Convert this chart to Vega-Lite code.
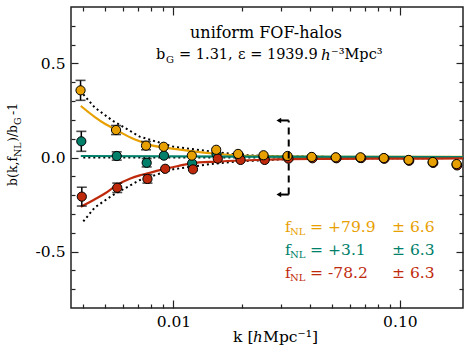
{
  "$schema": "https://vega.github.io/schema/vega-lite/v6.json",
  "width": 392,
  "height": 301,
  "autosize": {"type": "none"},
  "padding": {"left": 71, "top": 7, "right": 9, "bottom": 46},
  "background": "white",
  "config": {"view": {"stroke": "#222", "strokeWidth": 1.5}, "text": {"font": "DejaVu Serif"}},
  "datasets": {
    "pts": [
      {"k": 0.00392, "v": 0.086, "s": "zero"}, {"k": 0.00562, "v": 0.008, "s": "zero"}, {"k": 0.00762, "v": -0.028, "s": "zero"}, {"k": 0.00908, "v": 0.010, "s": "zero"}, {"k": 0.0121, "v": -0.031, "s": "zero"}, {"k": 0.0155, "v": 0.019, "s": "zero"}, {"k": 0.0195, "v": 0.010, "s": "zero"}, {"k": 0.0250, "v": 0.006, "s": "zero"}, {"k": 0.0319, "v": 0.003, "s": "zero"}, {"k": 0.0408, "v": 0.001, "s": "zero"}, {"k": 0.0521, "v": -0.001, "s": "zero"}, {"k": 0.0670, "v": -0.002, "s": "zero"}, {"k": 0.0849, "v": -0.005, "s": "zero"}, {"k": 0.1093, "v": -0.015, "s": "zero"}, {"k": 0.1396, "v": -0.027, "s": "zero"}, {"k": 0.1780, "v": -0.038, "s": "zero"},
      {"k": 0.00394, "v": -0.208, "s": "neg"}, {"k": 0.00565, "v": -0.161, "s": "neg"}, {"k": 0.00768, "v": -0.114, "s": "neg"}, {"k": 0.0092, "v": -0.060, "s": "neg"}, {"k": 0.0122, "v": -0.063, "s": "neg"}, {"k": 0.0157, "v": -0.006, "s": "neg"}, {"k": 0.0198, "v": -0.013, "s": "neg"}, {"k": 0.0253, "v": -0.013, "s": "neg"}, {"k": 0.0322, "v": -0.006, "s": "neg"}, {"k": 0.0411, "v": -0.004, "s": "neg"}, {"k": 0.0525, "v": -0.004, "s": "neg"}, {"k": 0.0675, "v": -0.003, "s": "neg"}, {"k": 0.0855, "v": -0.006, "s": "neg"}, {"k": 0.1100, "v": -0.017, "s": "neg"}, {"k": 0.1405, "v": -0.028, "s": "neg"}, {"k": 0.1790, "v": -0.042, "s": "neg"},
      {"k": 0.00389, "v": 0.357, "s": "pos"}, {"k": 0.00558, "v": 0.146, "s": "pos"}, {"k": 0.00757, "v": 0.063, "s": "pos"}, {"k": 0.00906, "v": 0.057, "s": "pos"}, {"k": 0.01206, "v": 0.010, "s": "pos"}, {"k": 0.01545, "v": 0.041, "s": "pos"}, {"k": 0.0193, "v": 0.019, "s": "pos"}, {"k": 0.0250, "v": 0.012, "s": "pos"}, {"k": 0.0319, "v": 0.008, "s": "pos"}, {"k": 0.0408, "v": 0.003, "s": "pos"}, {"k": 0.0521, "v": 0.001, "s": "pos"}, {"k": 0.0670, "v": 0.001, "s": "pos"}, {"k": 0.0849, "v": -0.003, "s": "pos"}, {"k": 0.1093, "v": -0.013, "s": "pos"}, {"k": 0.1396, "v": -0.024, "s": "pos"}, {"k": 0.1780, "v": -0.035, "s": "pos"}
    ],
    "errs": [
      {"k": 0.00392, "lo": 0.033, "hi": 0.139}, {"k": 0.00562, "lo": -0.014, "hi": 0.030}, {"k": 0.00762, "lo": -0.050, "hi": -0.006},
      {"k": 0.00394, "lo": -0.258, "hi": -0.158}, {"k": 0.00565, "lo": -0.186, "hi": -0.136}, {"k": 0.00768, "lo": -0.136, "hi": -0.092},
      {"k": 0.00389, "lo": 0.304, "hi": 0.410}, {"k": 0.00558, "lo": 0.122, "hi": 0.170}, {"k": 0.00757, "lo": 0.041, "hi": 0.085}
    ],
    "model": [
      {"k": 0.0039, "v": 0.274, "s": "pos"}, {"k": 0.0045, "v": 0.215, "s": "pos"}, {"k": 0.005, "v": 0.178, "s": "pos"}, {"k": 0.0056, "v": 0.146, "s": "pos"}, {"k": 0.0065, "v": 0.105, "s": "pos"}, {"k": 0.0071, "v": 0.086, "s": "pos"}, {"k": 0.0077, "v": 0.070, "s": "pos"}, {"k": 0.009, "v": 0.054, "s": "pos"}, {"k": 0.0105, "v": 0.043, "s": "pos"}, {"k": 0.012, "v": 0.034, "s": "pos"}, {"k": 0.0155, "v": 0.020, "s": "pos"}, {"k": 0.02, "v": 0.010, "s": "pos"}, {"k": 0.025, "v": 0.007, "s": "pos"}, {"k": 0.032, "v": 0.005, "s": "pos"}, {"k": 0.05, "v": 0.004, "s": "pos"}, {"k": 0.1, "v": 0.003, "s": "pos"}, {"k": 0.19, "v": 0.003, "s": "pos"},
      {"k": 0.0039, "v": 0.008, "s": "zero"}, {"k": 0.02, "v": 0.005, "s": "zero"}, {"k": 0.19, "v": 0.002, "s": "zero"},
      {"k": 0.0039, "v": -0.262, "s": "neg"}, {"k": 0.0045, "v": -0.222, "s": "neg"}, {"k": 0.005, "v": -0.19, "s": "neg"}, {"k": 0.0056, "v": -0.148, "s": "neg"}, {"k": 0.0065, "v": -0.11, "s": "neg"}, {"k": 0.0071, "v": -0.095, "s": "neg"}, {"k": 0.0077, "v": -0.084, "s": "neg"}, {"k": 0.009, "v": -0.063, "s": "neg"}, {"k": 0.0105, "v": -0.045, "s": "neg"}, {"k": 0.012, "v": -0.031, "s": "neg"}, {"k": 0.0155, "v": -0.022, "s": "neg"}, {"k": 0.02, "v": -0.016, "s": "neg"}, {"k": 0.025, "v": -0.012, "s": "neg"}, {"k": 0.032, "v": -0.009, "s": "neg"}, {"k": 0.05, "v": -0.007, "s": "neg"}, {"k": 0.1, "v": -0.006, "s": "neg"}, {"k": 0.19, "v": -0.005, "s": "neg"}
    ],
    "dots": [
      {"k": 0.0040, "v": 0.336, "s": "u"}, {"k": 0.0045, "v": 0.265, "s": "u"}, {"k": 0.0054, "v": 0.195, "s": "u"}, {"k": 0.0071, "v": 0.111, "s": "u"}, {"k": 0.010, "v": 0.057, "s": "u"}, {"k": 0.015, "v": 0.031, "s": "u"}, {"k": 0.0197, "v": 0.013, "s": "u"}, {"k": 0.03, "v": 0.006, "s": "u"}, {"k": 0.05, "v": 0.003, "s": "u"}, {"k": 0.19, "v": 0.002, "s": "u"},
      {"k": 0.0040, "v": 0.0, "s": "m"}, {"k": 0.19, "v": 0.0, "s": "m"},
      {"k": 0.0040, "v": -0.34, "s": "l"}, {"k": 0.0045, "v": -0.265, "s": "l"}, {"k": 0.0054, "v": -0.2, "s": "l"}, {"k": 0.0071, "v": -0.12, "s": "l"}, {"k": 0.010, "v": -0.062, "s": "l"}, {"k": 0.015, "v": -0.033, "s": "l"}, {"k": 0.0197, "v": -0.02, "s": "l"}, {"k": 0.03, "v": -0.01, "s": "l"}, {"k": 0.05, "v": -0.005, "s": "l"}, {"k": 0.19, "v": -0.003, "s": "l"}
    ],
    "arrowv": [{"k": 0.0323, "lo": -0.197, "hi": 0.197}],
    "arrowh": [{"k": 0.0323, "k2": 0.0297, "v": 0.197}, {"k": 0.0323, "k2": 0.0297, "v": -0.197}],
    "arrowhead": [{"k": 0.0292, "v": 0.197}, {"k": 0.0292, "v": -0.197}],
    "ttitle": [
      {"k": 0.01184, "v": 0.662, "text": "uniform FOF-halos"}
    ],
    "tline": [
      {"k": 0.008378, "v": 0.545, "text": "b"},
      {"k": 0.01059, "v": 0.545, "text": "= 1.31,"},
      {"k": 0.01929, "v": 0.545, "text": "ε = 1939.9"},
      {"k": 0.04967, "v": 0.545, "text": "⁻³Mpc³"}
    ],
    "tnorm": [
      {"k": 0.03112, "v": -0.369, "text": "f", "g": "pos"},
      {"k": 0.04013, "v": -0.369, "text": "=", "g": "pos"},
      {"k": 0.04818, "v": -0.369, "text": "+79.9", "g": "pos"},
      {"k": 0.09237, "v": -0.369, "text": "± 6.6", "g": "pos"},
      {"k": 0.03112, "v": -0.492, "text": "f", "g": "zero"},
      {"k": 0.04013, "v": -0.492, "text": "=", "g": "zero"},
      {"k": 0.04818, "v": -0.492, "text": "+3.1", "g": "zero"},
      {"k": 0.09237, "v": -0.492, "text": "± 6.3", "g": "zero"},
      {"k": 0.03112, "v": -0.614, "text": "f", "g": "neg"},
      {"k": 0.04013, "v": -0.614, "text": "=", "g": "neg"},
      {"k": 0.04818, "v": -0.614, "text": "-78.2", "g": "neg"},
      {"k": 0.09237, "v": -0.614, "text": "± 6.3", "g": "neg"},
      {"k": 0.01834, "v": -0.954, "text": "k [", "g": "k"},
      {"k": 0.02487, "v": -0.954, "text": "Mpc⁻¹]", "g": "k"}
    ],
    "tsub": [
      {"k": 0.009275, "v": 0.545, "text": "G", "g": "k"},
      {"k": 0.03273, "v": -0.369, "text": "NL", "g": "pos"},
      {"k": 0.03273, "v": -0.492, "text": "NL", "g": "zero"},
      {"k": 0.03273, "v": -0.614, "text": "NL", "g": "neg"}
    ],
    "tital": [
      {"k": 0.04486, "v": 0.545, "text": "h"},
      {"k": 0.02247, "v": -0.954, "text": "h"}
    ],
    "ytnorm": [
      {"k": 0.001957, "v": -0.1515, "text": "b(k,f"},
      {"k": 0.001957, "v": 0.0824, "text": ")/b"},
      {"k": 0.001957, "v": 0.2259, "text": "-1"}
    ],
    "ytsub": [
      {"k": 0.001957, "v": 0.0027, "text": "NL"},
      {"k": 0.001957, "v": 0.1728, "text": "G"}
    ]
  },
  "layer": [
    {
      "data": {"name": "dots"},
      "mark": {"type": "line", "color": "#000", "strokeWidth": 2, "strokeDash": [2, 3], "clip": true},
      "encoding": {
        "x": {"field": "k", "type": "quantitative", "scale": {"type": "log", "domain": [0.00353, 0.19], "nice": false},
          "axis": {"orient": "bottom", "values": [0.004, 0.005, 0.006, 0.007, 0.008, 0.009, 0.01, 0.02, 0.03, 0.04, 0.05, 0.06, 0.07, 0.08, 0.09, 0.1],
            "labelExpr": "datum.value == 0.01 ? '0.01' : (datum.value == 0.1 ? '0.10' : '')",
            "tickSize": {"condition": {"test": "datum.value == 0.01 || datum.value == 0.1", "value": -8}, "value": -4},
            "labelPadding": 14, "domain": false, "grid": false, "title": null, "labelFont": "DejaVu Serif", "labelFontSize": 15.5, "labelColor": "#000",
            "tickColor": "#222", "tickWidth": 1.2, "labelOverlap": false, "labelFlush": false}},
        "y": {"field": "v", "type": "quantitative", "scale": {"domain": [-0.8, 0.8], "nice": false, "zero": false},
          "axis": {"orient": "left", "values": [-0.7, -0.6, -0.5, -0.4, -0.3, -0.2, -0.1, 0, 0.1, 0.2, 0.3, 0.4, 0.5, 0.6, 0.7],
            "labelExpr": "datum.value == 0 ? '0.0' : (datum.value == 0.5 ? '0.5' : (datum.value == -0.5 ? '-0.5' : ''))",
            "tickSize": {"condition": {"test": "datum.value == 0 || abs(datum.value) == 0.5", "value": -7}, "value": -4},
            "labelPadding": 13, "domain": false, "grid": false, "title": null, "labelFont": "DejaVu Serif", "labelFontSize": 15.5, "labelColor": "#000",
            "tickColor": "#222", "tickWidth": 1.2, "labelOverlap": false, "labelFlush": false}},
        "detail": {"field": "s"}
      }
    },
    {
      "data": {"name": "model"},
      "mark": {"type": "line", "strokeWidth": 2.2, "interpolate": "monotone", "clip": true},
      "encoding": {
        "x": {"field": "k", "type": "quantitative", "scale": {"type": "log", "domain": [0.00353, 0.19], "nice": false},
          "axis": {"orient": "top", "values": [0.004, 0.005, 0.006, 0.007, 0.008, 0.009, 0.01, 0.02, 0.03, 0.04, 0.05, 0.06, 0.07, 0.08, 0.09, 0.1],
            "labels": false, "tickSize": {"condition": {"test": "datum.value == 0.01 || datum.value == 0.1", "value": -8}, "value": -4},
            "domain": false, "grid": false, "title": null, "tickColor": "#222", "tickWidth": 1.2}},
        "y": {"field": "v", "type": "quantitative", "scale": {"domain": [-0.8, 0.8], "nice": false, "zero": false},
          "axis": {"orient": "right", "values": [-0.7, -0.6, -0.5, -0.4, -0.3, -0.2, -0.1, 0, 0.1, 0.2, 0.3, 0.4, 0.5, 0.6, 0.7],
            "labels": false, "tickSize": {"condition": {"test": "datum.value == 0 || abs(datum.value) == 0.5", "value": -7}, "value": -4},
            "domain": false, "grid": false, "title": null, "tickColor": "#222", "tickWidth": 1.2}},
        "color": {"field": "s", "type": "nominal", "scale": {"domain": ["pos", "zero", "neg", "k"], "range": ["#E8A000", "#00806A", "#C02A0C", "#000000"]}, "legend": null}
      }
    },
    {
      "data": {"name": "errs"},
      "mark": {"type": "rule", "color": "#000", "strokeWidth": 1.5},
      "encoding": {
        "x": {"field": "k", "type": "quantitative", "scale": {"type": "log", "domain": [0.00353, 0.19], "nice": false}, "axis": null},
        "y": {"field": "lo", "type": "quantitative", "scale": {"domain": [-0.8, 0.8], "nice": false, "zero": false}, "axis": null},
        "y2": {"field": "hi"}
      }
    },
    {
      "data": {"name": "errs"},
      "mark": {"type": "tick", "orient": "horizontal", "color": "#000", "size": 10, "thickness": 1.6},
      "encoding": {
        "x": {"field": "k", "type": "quantitative", "scale": {"type": "log", "domain": [0.00353, 0.19], "nice": false}, "axis": null},
        "y": {"field": "lo", "type": "quantitative", "scale": {"domain": [-0.8, 0.8], "nice": false, "zero": false}, "axis": null}
      }
    },
    {
      "data": {"name": "errs"},
      "mark": {"type": "tick", "orient": "horizontal", "color": "#000", "size": 10, "thickness": 1.6},
      "encoding": {
        "x": {"field": "k", "type": "quantitative", "scale": {"type": "log", "domain": [0.00353, 0.19], "nice": false}, "axis": null},
        "y": {"field": "hi", "type": "quantitative", "scale": {"domain": [-0.8, 0.8], "nice": false, "zero": false}, "axis": null}
      }
    },
    {
      "data": {"name": "pts"},
      "mark": {"type": "point", "shape": "circle", "filled": true, "size": 85, "stroke": "#000", "strokeWidth": 1, "opacity": 1},
      "encoding": {
        "x": {"field": "k", "type": "quantitative", "scale": {"type": "log", "domain": [0.00353, 0.19], "nice": false}, "axis": null},
        "y": {"field": "v", "type": "quantitative", "scale": {"domain": [-0.8, 0.8], "nice": false, "zero": false}, "axis": null},
        "fill": {"field": "s", "type": "nominal", "scale": {"domain": ["pos", "zero", "neg", "k"], "range": ["#E8A000", "#00806A", "#C02A0C", "#000000"]}, "legend": null}
      }
    },
    {
      "data": {"name": "arrowv"},
      "mark": {"type": "rule", "color": "#000", "strokeWidth": 2, "strokeDash": [7, 5]},
      "encoding": {
        "x": {"field": "k", "type": "quantitative", "scale": {"type": "log", "domain": [0.00353, 0.19], "nice": false}, "axis": null},
        "y": {"field": "lo", "type": "quantitative", "scale": {"domain": [-0.8, 0.8], "nice": false, "zero": false}, "axis": null},
        "y2": {"field": "hi"}
      }
    },
    {
      "data": {"name": "arrowh"},
      "mark": {"type": "rule", "color": "#000", "strokeWidth": 2},
      "encoding": {
        "x": {"field": "k", "type": "quantitative", "scale": {"type": "log", "domain": [0.00353, 0.19], "nice": false}, "axis": null},
        "x2": {"field": "k2"},
        "y": {"field": "v", "type": "quantitative", "scale": {"domain": [-0.8, 0.8], "nice": false, "zero": false}, "axis": null}
      }
    },
    {
      "data": {"name": "arrowhead"},
      "mark": {"type": "point", "shape": "triangle-left", "filled": true, "color": "#000", "size": 30, "opacity": 1},
      "encoding": {
        "x": {"field": "k", "type": "quantitative", "scale": {"type": "log", "domain": [0.00353, 0.19], "nice": false}, "axis": null},
        "y": {"field": "v", "type": "quantitative", "scale": {"domain": [-0.8, 0.8], "nice": false, "zero": false}, "axis": null}
      }
    },
    {
      "data": {"name": "ttitle"},
      "mark": {"type": "text", "align": "left", "baseline": "middle", "fontSize": 16, "font": "DejaVu Serif", "color": "#000"},
      "encoding": {
        "x": {"field": "k", "type": "quantitative", "scale": {"type": "log", "domain": [0.00353, 0.19], "nice": false}, "axis": null},
        "y": {"field": "v", "type": "quantitative", "scale": {"domain": [-0.8, 0.8], "nice": false, "zero": false}, "axis": null},
        "text": {"field": "text"}
      }
    },
    {
      "data": {"name": "tline"},
      "mark": {"type": "text", "align": "left", "baseline": "middle", "fontSize": 14.5, "font": "DejaVu Serif", "color": "#000"},
      "encoding": {
        "x": {"field": "k", "type": "quantitative", "scale": {"type": "log", "domain": [0.00353, 0.19], "nice": false}, "axis": null},
        "y": {"field": "v", "type": "quantitative", "scale": {"domain": [-0.8, 0.8], "nice": false, "zero": false}, "axis": null},
        "text": {"field": "text"}
      }
    },
    {
      "data": {"name": "tnorm"},
      "mark": {"type": "text", "align": "left", "baseline": "middle", "fontSize": 15.5, "font": "DejaVu Serif"},
      "encoding": {
        "x": {"field": "k", "type": "quantitative", "scale": {"type": "log", "domain": [0.00353, 0.19], "nice": false}, "axis": null},
        "y": {"field": "v", "type": "quantitative", "scale": {"domain": [-0.8, 0.8], "nice": false, "zero": false}, "axis": null},
        "text": {"field": "text"},
        "color": {"field": "g", "type": "nominal", "scale": {"domain": ["pos", "zero", "neg", "k"], "range": ["#E8A000", "#00806A", "#C02A0C", "#000000"]}, "legend": null}
      }
    },
    {
      "data": {"name": "tsub"},
      "mark": {"type": "text", "align": "left", "baseline": "middle", "fontSize": 10, "dy": 5, "font": "DejaVu Serif"},
      "encoding": {
        "x": {"field": "k", "type": "quantitative", "scale": {"type": "log", "domain": [0.00353, 0.19], "nice": false}, "axis": null},
        "y": {"field": "v", "type": "quantitative", "scale": {"domain": [-0.8, 0.8], "nice": false, "zero": false}, "axis": null},
        "text": {"field": "text"},
        "color": {"field": "g", "type": "nominal", "scale": {"domain": ["pos", "zero", "neg", "k"], "range": ["#E8A000", "#00806A", "#C02A0C", "#000000"]}, "legend": null}
      }
    },
    {
      "data": {"name": "tital"},
      "mark": {"type": "text", "align": "left", "baseline": "middle", "fontSize": 15, "fontStyle": "italic", "font": "DejaVu Serif", "color": "#000"},
      "encoding": {
        "x": {"field": "k", "type": "quantitative", "scale": {"type": "log", "domain": [0.00353, 0.19], "nice": false}, "axis": null},
        "y": {"field": "v", "type": "quantitative", "scale": {"domain": [-0.8, 0.8], "nice": false, "zero": false}, "axis": null},
        "text": {"field": "text"}
      }
    },
    {
      "data": {"name": "ytnorm"},
      "mark": {"type": "text", "align": "left", "baseline": "middle", "fontSize": 12.5, "angle": 270, "font": "DejaVu Serif", "color": "#000"},
      "encoding": {
        "x": {"field": "k", "type": "quantitative", "scale": {"type": "log", "domain": [0.00353, 0.19], "nice": false}, "axis": null},
        "y": {"field": "v", "type": "quantitative", "scale": {"domain": [-0.8, 0.8], "nice": false, "zero": false}, "axis": null},
        "text": {"field": "text"}
      }
    },
    {
      "data": {"name": "ytsub"},
      "mark": {"type": "text", "align": "left", "baseline": "middle", "fontSize": 9.5, "angle": 270, "dy": 5, "font": "DejaVu Serif", "color": "#000"},
      "encoding": {
        "x": {"field": "k", "type": "quantitative", "scale": {"type": "log", "domain": [0.00353, 0.19], "nice": false}, "axis": null},
        "y": {"field": "v", "type": "quantitative", "scale": {"domain": [-0.8, 0.8], "nice": false, "zero": false}, "axis": null},
        "text": {"field": "text"}
      }
    }
  ],
  "resolve": {"axis": {"x": "independent", "y": "independent"}}
}
